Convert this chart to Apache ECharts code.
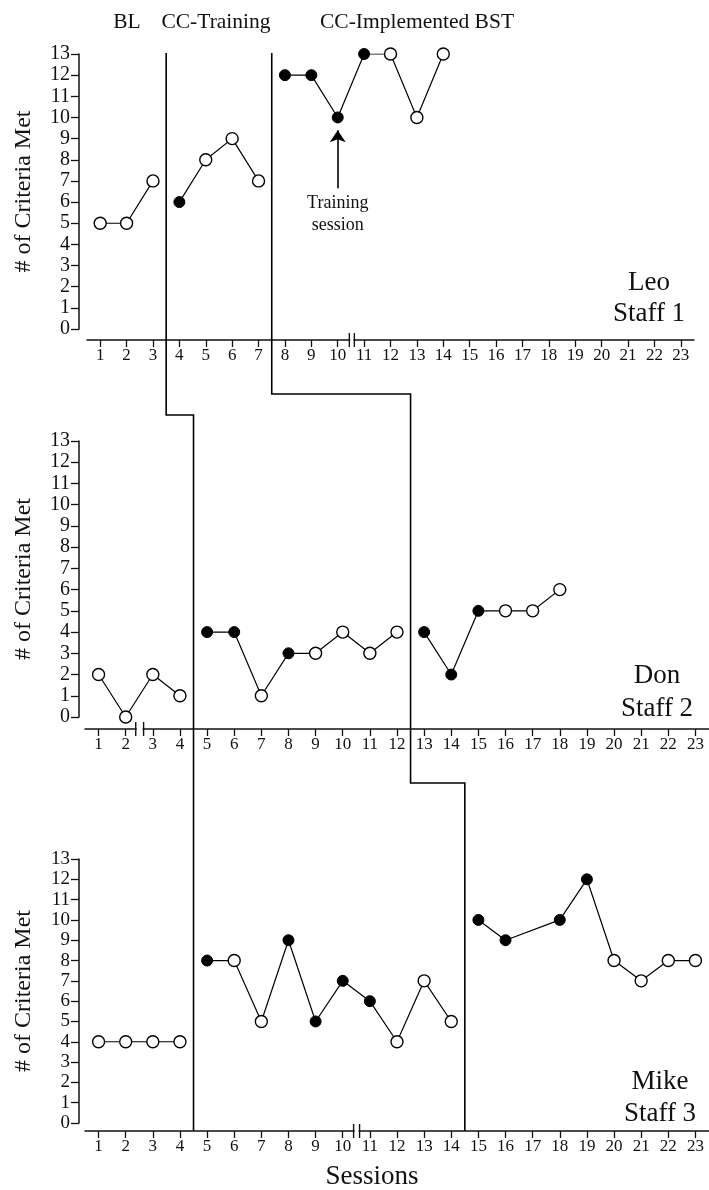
<!DOCTYPE html>
<html>
<head>
<meta charset="utf-8">
<script src="https://cdn.jsdelivr.net/npm/echarts@6/dist/echarts.min.js"></script>
<style>
  html, body { margin: 0; padding: 0; background: #fff; }
  #chart { width: 709px; height: 1190px; }
</style>
</head>
<body>
<div id="chart"></div>
<script>
// tick labels
var xTicks = [1, 2, 3, 4, 5, 6, 7, 8, 9, 10, 11, 12, 13, 14, 15, 16, 17, 18, 19, 20, 21, 22, 23];
var yTicks = [0, 1, 2, 3, 4, 5, 6, 7, 8, 9, 10, 11, 12, 13];
var phaseNames = ['BL', 'CC-Training', 'CC-Implemented BST'];

// Leo / Staff 1
var leoSessions = [1, 2, 3, 4, 5, 6, 7, 8, 9, 10, 11, 12, 13, 14];
var leoCriteria = [5, 5, 7, 6, 8, 9, 7, 12, 12, 10, 13, 13, 10, 13];
var leoFilled   = [0, 0, 0, 1, 0, 0, 0, 1, 1, 1, 1, 0, 0, 0];
var leoPhases   = [3.5, 7.5];
var leoBreak    = [10.44, 10.63];

// Don / Staff 2
var donSessions = [1, 2, 3, 4, 5, 6, 7, 8, 9, 10, 11, 12, 13, 14, 15, 16, 17, 18];
var donCriteria = [2, 0, 2, 1, 4, 4, 1, 3, 3, 4, 3, 4, 4, 2, 5, 5, 5, 6];
var donFilled   = [0, 0, 0, 0, 1, 1, 0, 1, 0, 0, 0, 0, 1, 1, 1, 0, 0, 0];
var donPhases   = [4.5, 12.5];
var donBreak    = [2.37, 2.66];

// Mike / Staff 3 (no session 17)
var mikeSessions = [1, 2, 3, 4, 5, 6, 7, 8, 9, 10, 11, 12, 13, 14, 15, 16, 18, 19, 20, 21, 22, 23];
var mikeCriteria = [4, 4, 4, 4, 8, 8, 5, 9, 5, 7, 6, 4, 7, 5, 10, 9, 10, 12, 8, 7, 8, 8];
var mikeFilled   = [0, 0, 0, 0, 1, 0, 0, 1, 1, 1, 1, 0, 0, 0, 1, 1, 1, 1, 0, 0, 0, 0];
var mikePhases   = [4.5, 14.5];
var mikeBreak    = [10.4, 10.62];

var FONT = '"Liberation Serif", "Times New Roman", serif';

var panels = [
  {label: 'Leo\nStaff 1', sessions: leoSessions, criteria: leoCriteria, filled: leoFilled,
   phases: leoPhases, brk: leoBreak,
   grid: {left: 87, top: 54, width: 607, height: 275}, xOff: 11, yOff: 8, yFont: 20,
   tag: {x: 649, y: 267, lh: 31}},
  {label: 'Don\nStaff 2', sessions: donSessions, criteria: donCriteria, filled: donFilled,
   phases: donPhases, brk: donBreak,
   grid: {left: 85, top: 441, width: 625, height: 276}, xOff: 12, yOff: 6, yFont: 20,
   tag: {x: 657, y: 659, lh: 33}},
  {label: 'Mike\nStaff 3', sessions: mikeSessions, criteria: mikeCriteria, filled: mikeFilled,
   phases: mikePhases, brk: mikeBreak,
   grid: {left: 85, top: 859, width: 624, height: 264}, xOff: 8, yOff: 6, yFont: 19,
   tag: {x: 660, y: 1066, lh: 32}}
];

var openStyle = {color: '#fff', borderColor: '#000', borderWidth: 1.4};
var filledStyle = {color: '#000', borderColor: '#000', borderWidth: 1};

function buildSeries(p, idx) {
  var bounds = [-Infinity].concat(p.phases, [Infinity]);
  var out = [];
  for (var k = 0; k < bounds.length - 1; k++) {
    var pts = [];
    p.sessions.forEach(function (s, i) {
      if (s > bounds[k] && s < bounds[k + 1]) {
        pts.push({
          value: [s, p.criteria[i]],
          symbolSize: p.filled[i] ? 11 : 12,
          itemStyle: p.filled[i] ? filledStyle : openStyle
        });
      }
    });
    out.push({
      type: 'line',
      xAxisIndex: idx,
      yAxisIndex: idx,
      data: pts,
      symbol: 'circle',
      showAllSymbol: true,
      lineStyle: {color: '#000', width: 1.2},
      itemStyle: {color: '#000'},
      z: 5,
      silent: true,
      animation: false
    });
  }
  return out;
}

var chart = echarts.init(document.getElementById('chart'));

var series = [];
panels.forEach(function (p, i) { series = series.concat(buildSeries(p, i)); });

// arrow pointing at the training session (Leo, session 10)
series[2].markLine = {
  silent: true,
  symbol: ['none', 'arrow'],
  symbolSize: 12,
  lineStyle: {color: '#000', width: 1.6, type: 'solid'},
  label: {show: false},
  data: [[{coord: [10, 6.65]}, {coord: [10, 9.4]}]],
  animation: false
};

var option = {
  animation: false,
  textStyle: {fontFamily: FONT},
  grid: panels.map(function (p) { return p.grid; }),
  xAxis: panels.map(function (p, i) {
    return {
      type: 'value',
      gridIndex: i,
      min: 0.5,
      max: 23.5,
      offset: p.xOff,
      axisLine: {show: true, onZero: false, lineStyle: {color: '#111', width: 1.5}},
      axisTick: {show: true, length: 7, customValues: xTicks, lineStyle: {color: '#111', width: 1.3}},
      axisLabel: {customValues: xTicks, color: '#111', fontSize: 17, fontFamily: FONT, margin: 7},
      splitLine: {show: false}
    };
  }),
  yAxis: panels.map(function (p, i) {
    return {
      type: 'value',
      gridIndex: i,
      min: 0,
      max: 13,
      interval: 1,
      offset: p.yOff,
      name: '# of Criteria Met',
      nameLocation: 'middle',
      nameGap: 43,
      nameTextStyle: {color: '#111', fontSize: 24, fontFamily: FONT},
      axisLine: {show: true, onZero: false, lineStyle: {color: '#111', width: 1.5}},
      axisTick: {show: true, length: 8, lineStyle: {color: '#111', width: 1.3}},
      axisLabel: {color: '#111', fontSize: p.yFont, fontFamily: FONT, margin: 9,
        interval: 0, showMinLabel: true, showMaxLabel: true, hideOverlap: false,
        customValues: yTicks},
      splitLine: {show: false}
    };
  }),
  series: series
};

chart.setOption(option);

// decorations placed through the axes' own scales
function px(i, x) { return chart.convertToPixel({xAxisIndex: i}, x); }
function py(i, y) { return chart.convertToPixel({yAxisIndex: i}, y); }

var graphics = [];
var axisY = panels.map(function (p, i) { return py(i, 0) + p.xOff; });

// axis breaks
panels.forEach(function (p, i) {
  var a = px(i, p.brk[0]), b = px(i, p.brk[1]);
  graphics.push({type: 'rect', z: 100, shape: {x: a + 1, y: axisY[i] - 3, width: b - a - 2, height: 6},
    style: {fill: '#fff'}});
  [a, b].forEach(function (x) {
    graphics.push({type: 'line', z: 101, shape: {x1: x, y1: axisY[i] - 7, x2: x, y2: axisY[i] + 7},
      style: {stroke: '#111', lineWidth: 1.4}});
  });
});

// staggered phase-change lines
var stepY = [[415, 783], [394, 783]];
[0, 1].forEach(function (k) {
  var x0 = px(0, panels[0].phases[k]);
  var x1 = px(1, panels[1].phases[k]);
  var x2 = px(2, panels[2].phases[k]);
  var top = py(0, 13) - 1;
  graphics.push({
    type: 'polyline', z: 50,
    shape: {points: [[x0, top], [x0, stepY[k][0]], [x1, stepY[k][0]], [x1, stepY[k][1]],
      [x2, stepY[k][1]], [x2, axisY[2]]]},
    style: {stroke: '#000', lineWidth: 1.6, fill: null}
  });
});

// phase labels
var phaseX = [127, 216, 417];
phaseNames.forEach(function (t, k) {
  graphics.push({type: 'text', z: 100, style: {text: t, x: phaseX[k], y: 22, align: 'center',
    verticalAlign: 'middle', font: '21.5px ' + FONT, fill: '#111'}});
});

// participant labels
panels.forEach(function (p) {
  graphics.push({type: 'text', z: 100, style: {text: p.label, x: p.tag.x, y: p.tag.y,
    align: 'center', verticalAlign: 'top', lineHeight: p.tag.lh, font: '27px ' + FONT, fill: '#111'}});
});

// annotation text
graphics.push({type: 'text', z: 100, style: {text: 'Training\nsession', x: px(0, 10), y: 192,
  align: 'center', verticalAlign: 'top', lineHeight: 22, font: '18px ' + FONT, fill: '#111'}});

// x-axis title
graphics.push({type: 'text', z: 100, style: {text: 'Sessions', x: 372, y: 1177, align: 'center',
  verticalAlign: 'middle', font: '27px ' + FONT, fill: '#111'}});

chart.setOption({graphic: graphics});
</script>
</body>
</html>
